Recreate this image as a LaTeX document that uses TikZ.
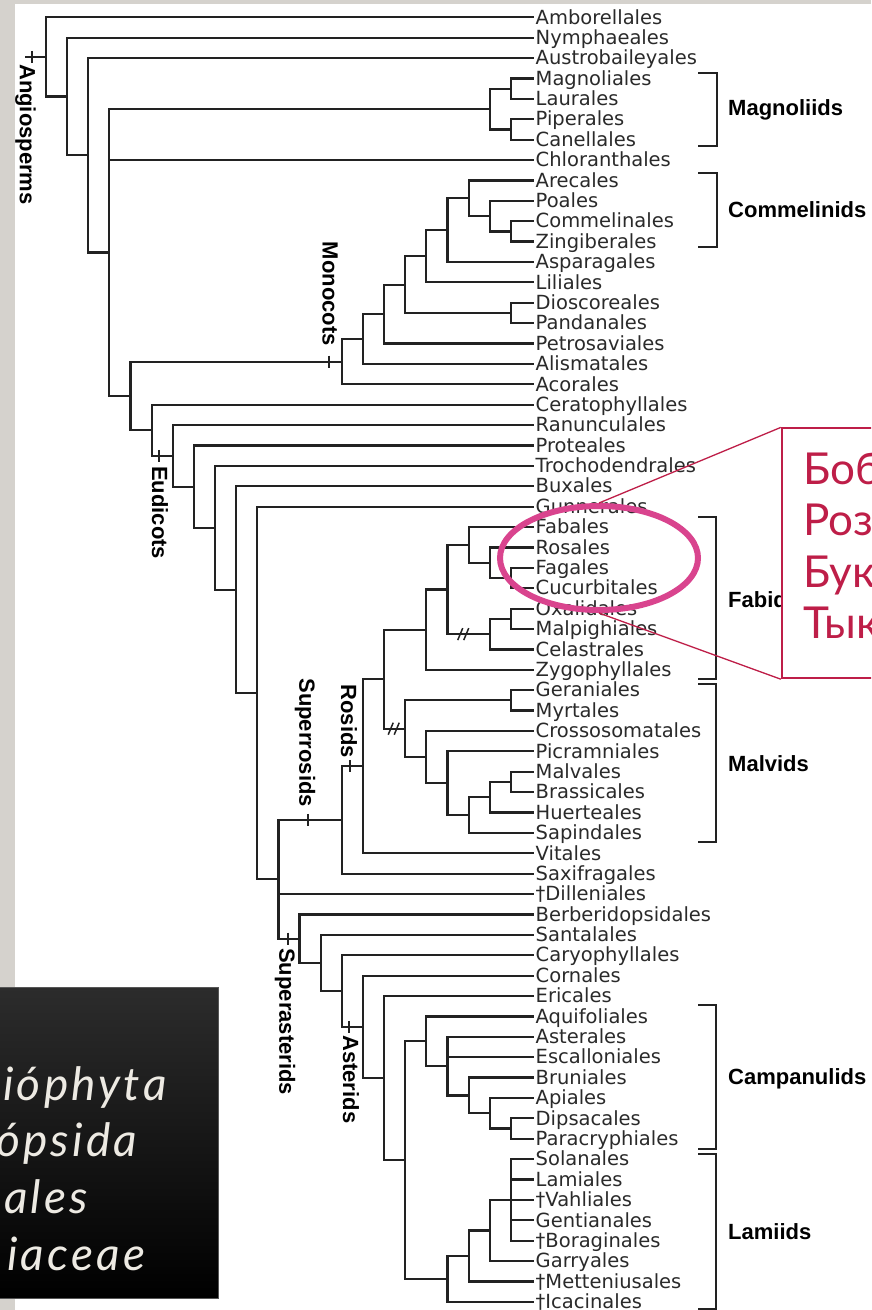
\documentclass[tikz,border=0pt]{standalone}
\usepackage{fontspec}
\usetikzlibrary{calc,shapes.geometric}
\newfontfamily\leaffont{DejaVu Sans}
\newfontfamily\groupfont{Liberation Sans}
\newfontfamily\notefont{Lato}
\newfontfamily\rankfont{Lato}[LetterSpace=7]
\definecolor{framegrey}{HTML}{D5D2CD}
\definecolor{branchink}{HTML}{222222}
\definecolor{leafink}{HTML}{2A2A2A}
\definecolor{ringpink}{HTML}{D9448E}
\definecolor{callred}{HTML}{BE1E48}
\definecolor{cream}{HTML}{EDEAE3}
\definecolor{boxtop}{HTML}{2C2C2C}

\tikzset{
  branch/.style={draw=branchink, line width=2.2pt, line cap=rect, line join=miter},
  tickmark/.style={draw=branchink, line width=1.7pt},
  leaflabel/.style={font={\leaffont\fontsize{19.5}{20}\selectfont}, text=leafink, inner sep=0pt, anchor=base west},
  cladelabel/.style={font={\groupfont\bfseries\fontsize{22}{24}\selectfont}, inner sep=0pt, rotate=-90},
  grouplabel/.style={font={\groupfont\bfseries\fontsize{22}{24}\selectfont}, inner sep=0pt, anchor=west},
  bracket/.style={draw=branchink, line width=2.2pt},
  familyname/.style={font={\notefont\fontsize{44}{48}\selectfont}, text=callred, inner sep=0pt, anchor=base west},
  ranktext/.style={font={\rankfont\itshape\fontsize{46}{50}\selectfont}, text=cream, inner sep=0pt, anchor=base west},
}

% clade node: name, level, first child, last child, all children
\newcommand\clade[5]{%
  \path let \p1=(#3), \p2=(#4) in ({(46+21.13*#2)*1pt}, {0.5*(\y1+\y2)}) coordinate (#1);
  \foreach \c in {#5}{\draw[branch] (#1) -- (#1 |- \c) -- (\c);}%
}
% short tick across a stem: clade node, horizontal offset
\newcommand\stemtick[2]{\draw[tickmark] ($(#1)+(#2,-6)$) -- ($(#1)+(#2,6)$);}
% double slash across a stem: clade node, horizontal offset
\newcommand\stembreak[2]{%
  \draw[tickmark, line width=1.5pt] ($(#1)+(#2-6,6)$) -- ($(#1)+(#2-1,-6)$);
  \draw[tickmark, line width=1.5pt] ($(#1)+(#2,6)$) -- ($(#1)+(#2+5,-6)$);}

\begin{document}
\begin{tikzpicture}[x=1pt, y=-1pt]
\useasboundingbox (0,0) rectangle (871,1310);
\clip (0,0) rectangle (871,1310);

% page and frame
\fill[white] (0,0) rectangle (871,1310);
\fill[framegrey] (0,0) rectangle (871,4);
\fill[framegrey] (0,0) rectangle (15,1310);

% leaves: tips and order names
\foreach \nm/\txt [count=\i] in {
  amb/Amborellales, nym/Nymphaeales, aus/Austrobaileyales, mag/Magnoliales,
  lau/Laurales, pip/Piperales, can/Canellales, chl/Chloranthales,
  are/Arecales, poa/Poales, com/Commelinales, zin/Zingiberales,
  asp/Asparagales, lil/Liliales, dio/Dioscoreales, pan/Pandanales,
  pet/Petrosaviales, ali/Alismatales, aco/Acorales, cer/Ceratophyllales,
  ran/Ranunculales, pro/Proteales, tro/Trochodendrales, bux/Buxales,
  gun/Gunnerales, fab/Fabales, ros/Rosales, fag/Fagales,
  cuc/Cucurbitales, oxa/Oxalidales, mal/Malpighiales, cel/Celastrales,
  zyg/Zygophyllales, ger/Geraniales, myr/Myrtales, cro/Crossosomatales,
  pic/Picramniales, mlv/Malvales, bra/Brassicales, hue/Huerteales,
  sap/Sapindales, vit/Vitales, sax/Saxifragales, dil/†Dilleniales,
  ber/Berberidopsidales, san/Santalales, car/Caryophyllales, cor/Cornales,
  eri/Ericales, aqu/Aquifoliales, ast/Asterales, esc/Escalloniales,
  bru/Bruniales, api/Apiales, dip/Dipsacales, par/Paracryphiales,
  sol/Solanales, lam/Lamiales, vah/†Vahliales, gen/Gentianales,
  bor/†Boraginales, gar/Garryales, met/†Metteniusales, ica/†Icacinales}{
  \coordinate (\nm) at (533, {17.3+20.39*(\i-1)});
  \node[leaflabel] (\nm-t) at ($(\nm)+(2.5,6.7)$) {\txt};
}

% magnoliids
\clade{magA}{22}{mag}{lau}{mag,lau}
\clade{magB}{22}{pip}{can}{pip,can}
\clade{magn}{21}{magA}{magB}{magA,magB}
% monocots
\clade{cm3}{22}{com}{zin}{com,zin}
\clade{cm2}{21}{poa}{cm3}{poa,cm3}
\clade{cm1}{20}{are}{cm2}{are,cm2}
\clade{mc5}{19}{cm1}{asp}{cm1,asp}
\clade{mc4}{18}{mc5}{lil}{mc5,lil}
\clade{dp}{22}{dio}{pan}{dio,pan}
\clade{mc3}{17}{mc4}{dp}{mc4,dp}
\clade{mc2}{16}{mc3}{pet}{mc3,pet}
\clade{mc1}{15}{mc2}{ali}{mc2,ali}
\clade{mono}{14}{mc1}{aco}{mc1,aco}
% fabids
\clade{fa5}{22}{fag}{cuc}{fag,cuc}
\clade{fa4}{21}{ros}{fa5}{ros,fa5}
\clade{fa2}{20}{fab}{fa4}{fab,fa4}
\clade{fa6}{22}{oxa}{mal}{oxa,mal}
\clade{fa3}{21}{fa6}{cel}{fa6,cel}
\clade{fa1}{19}{fa2}{fa3}{fa2,fa3}
\clade{fabid}{18}{fa1}{zyg}{fa1,zyg}
% malvids
\clade{m1}{22}{ger}{myr}{ger,myr}
\clade{m6}{22}{mlv}{bra}{mlv,bra}
\clade{m5}{21}{m6}{hue}{m6,hue}
\clade{m4}{20}{m5}{sap}{m5,sap}
\clade{m3}{19}{pic}{m4}{pic,m4}
\clade{m2}{18}{cro}{m3}{cro,m3}
\clade{malvid}{17}{m1}{m2}{m1,m2}
\clade{ro1}{16}{fabid}{malvid}{fabid,malvid}
\clade{rosid}{15}{ro1}{vit}{ro1,vit}
\clade{srosid}{14}{rosid}{sax}{rosid,sax}
% asterids
\clade{ca4}{22}{dip}{par}{dip,par}
\clade{ca3}{21}{api}{ca4}{api,ca4}
\clade{ca2}{20}{bru}{ca3}{bru,ca3}
\clade{ca1}{19}{ast}{ca2}{ast,esc,ca2}
\clade{campa}{18}{aqu}{ca1}{aqu,ca1}
\clade{la3}{22}{sol}{bor}{sol,lam,vah,gen,bor}
\clade{la2}{21}{la3}{gar}{la3,gar}
\clade{la1}{20}{la2}{met}{la2,met}
\clade{lamiid}{19}{la1}{ica}{la1,ica}
\clade{as2}{17}{campa}{lamiid}{campa,lamiid}
\clade{as1}{16}{eri}{as2}{eri,as2}
\clade{asterid}{15}{cor}{as1}{cor,as1}
\clade{sa2}{14}{car}{asterid}{car,asterid}
\clade{sa1}{13}{san}{sa2}{san,sa2}
\clade{sasterid}{12}{ber}{sa1}{ber,sa1}
% backbone
\clade{n12}{11}{srosid}{sasterid}{srosid,dil,sasterid}
\clade{n11}{10}{gun}{n12}{gun,n12}
\clade{n10}{9}{bux}{n11}{bux,n11}
\clade{n9}{8}{tro}{n10}{tro,n10}
\clade{n8}{7}{pro}{n9}{pro,n9}
\clade{eud}{6}{ran}{n8}{ran,n8}
\clade{n6}{5}{cer}{eud}{cer,eud}
\clade{n5}{4}{mono}{n6}{mono,n6}
\clade{n4}{3}{magn}{n5}{magn,chl,n5}
\clade{n3}{2}{aus}{n4}{aus,n4}
\clade{n2}{1}{nym}{n3}{nym,n3}
\clade{root}{0}{amb}{n2}{amb,n2}
\coordinate (rootbase) at ($(root)+(-20,0)$);
\draw[branch] (rootbase) -- (root);

% stem ticks and breaks
\stemtick{root}{-14}
\stemtick{mono}{-12.5}
\stemtick{eud}{-13.5}
\stemtick{srosid}{-33.5}
\stemtick{rosid}{-13}
\stemtick{sasterid}{-11.3}
\stemtick{asterid}{-13.7}
\stembreak{malvid}{-11}
\stembreak{fa3}{-26}

% rotated clade names
\node[cladelabel, anchor=west] (angio-l) at (25.5,64) {Angiosperms};
\node[cladelabel, anchor=east] (mono-l) at (330,346) {Monocots};
\node[cladelabel, anchor=west] (eud-l) at (160,466) {Eudicots};
\node[cladelabel, anchor=east] (srosid-l) at (305,807) {Superrosids};
\node[cladelabel, anchor=east] (rosid-l) at (349,758) {Rosids};
\node[cladelabel, anchor=west] (sasterid-l) at (285,948) {Superasterids};
\node[cladelabel, anchor=west] (asterid-l) at (351,1035) {Asterids};

% informal groups on the right
\draw[bracket] (698,72.7) -- (717,72.7) -- (717,146) -- (698,146);
\node[grouplabel] (magn-g) at (728,109.5) {Magnoliids};
\draw[bracket] (698,172.7) -- (717,172.7) -- (717,246.7) -- (698,246.7);
\node[grouplabel] (comm-g) at (728,209.5) {Commelinids};
\draw[bracket] (698,517.3) -- (716,517.3) -- (716,679.3) -- (698,679.3);
\node[grouplabel] (fabid-g) at (728,600) {Fabids};
\draw[bracket] (698,684) -- (716,684) -- (716,841.7) -- (698,841.7);
\node[grouplabel] (malvid-g) at (728,764) {Malvids};
\draw[bracket] (698,1005) -- (716,1005) -- (716,1149.3) -- (698,1149.3);
\node[grouplabel] (campa-g) at (728,1078.5) {Campanulids};
\draw[bracket] (698,1154) -- (716,1154) -- (716,1309) -- (698,1309);
\node[grouplabel] (lamiid-g) at (728,1232) {Lamiids};

% highlighted orders and their callout
\node[ellipse, draw=ringpink, line width=6pt, minimum width=198pt, minimum height=104pt, inner sep=0pt] (ring) at (599,558) {};
\node[draw=callred, line width=1.8pt, fill=white, anchor=north west, minimum width=200pt, minimum height=250pt, inner sep=0pt] (callout) at (780.8,427.4) {};
\draw[callred, line width=1.3pt] (callout.north west) -- (ring.north);
\draw[callred, line width=1.3pt] (callout.south west) -- (ring.south);
\node[familyname] (fam1) at (803,484.3) {Боб};
\node[familyname] (fam2) at (803,535.3) {Роз};
\node[familyname] (fam3) at (803,587) {Бук};
\node[familyname] (fam4) at (803,638.3) {Тык};

% taxonomic ranks panel
\shade[top color=boxtop, bottom color=black] (0,987.3) rectangle (218.3,1298.3);
\draw[boxtop!80!white, line width=0.8pt] (-2,987.3) -- (218.3,987.3) -- (218.3,1298.3) -- (-2,1298.3);
\node[ranktext] (rank1) at (3,1100) {ióphyta};
\node[ranktext] (rank2) at (-4,1156.7) {ópsida};
\node[ranktext] (rank3) at (4,1213.3) {ales};
\node[ranktext] (rank4) at (7,1270) {iaceae};
\end{tikzpicture}
\end{document}
